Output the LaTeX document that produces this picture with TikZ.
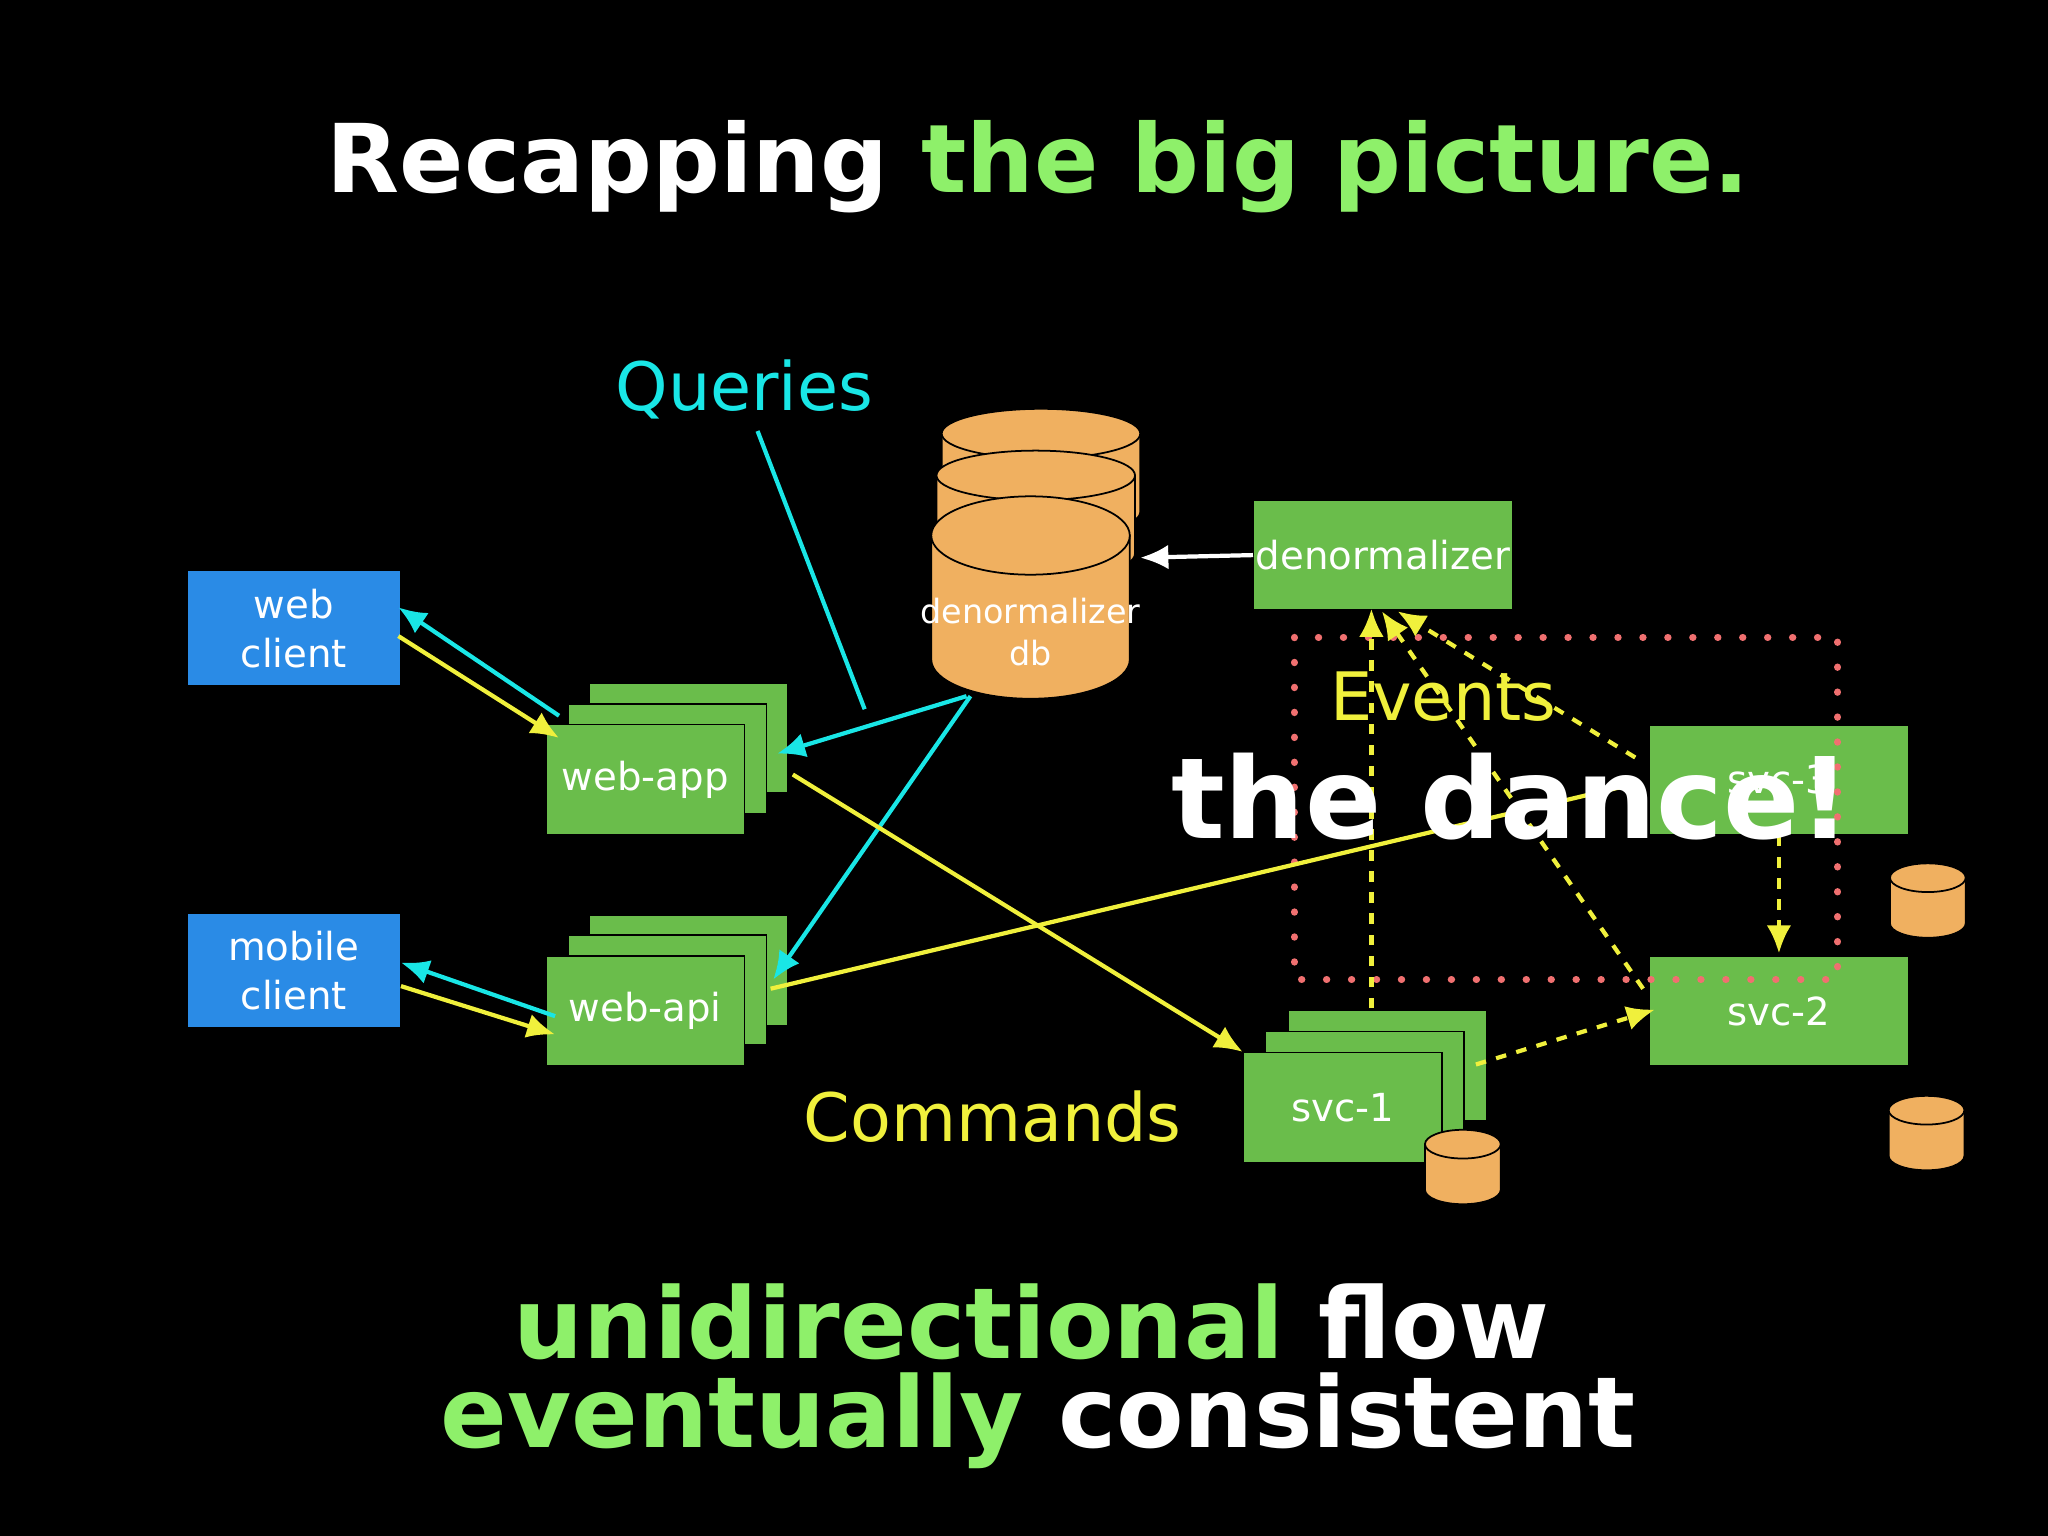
\documentclass[tikz,border=0pt]{standalone}
\usepackage{fontspec}
\setmainfont{DejaVu Sans}
\usetikzlibrary{arrows.meta}
\definecolor{gr}{HTML}{6ABD4B}
\definecolor{bl}{HTML}{2A8BE6}
\definecolor{lg}{HTML}{8EF06A}
\definecolor{cy}{HTML}{19E6E6}
\definecolor{ye}{HTML}{F0F03C}
\definecolor{og}{HTML}{F0B060}
\definecolor{rd}{HTML}{F07070}
\tikzset{
 box/.style={draw=black,line width=0.4pt,fill=#1,text=white,font=\fontsize{11}{14}\selectfont,align=center,inner sep=0pt,minimum width=1.985cm,minimum height=1.1cm},
 ca/.style={cy,line width=1.2pt,-{Latex[length=8pt,width=7pt]}},
 ya/.style={ye,line width=1.2pt,-{Latex[length=8pt,width=7pt]}},
 yd/.style={ye,line width=1.2pt,dash pattern=on 3pt off 3pt,-{Latex[length=8pt,width=7pt]}},
}
% cx, top y, rx, ry, height
\newcommand\mycyl[5]{%
 \fill[og,draw=black,line width=0.5pt] (#1-#3,#2) -- (#1-#3,#2+#5) arc[start angle=180,end angle=0,x radius=#3,y radius=#4] -- (#1+#3,#2) -- cycle;
 \fill[og,draw=black,line width=0.5pt] (#1,#2) ellipse[x radius=#3,y radius=#4];}
\begin{document}
\begin{tikzpicture}[x=0.01306cm,y=-0.01306cm]
\fill[black] (0,0) rectangle (1568,1176);
\useasboundingbox (0,0) rectangle (1568,1176);
\node[font=\fontsize{27}{30}\selectfont\bfseries,text=white] (title) at (795,128) {Recapping \textcolor{lg}{the big picture.}};
% clients
\node[box=bl,minimum width=2.14cm,minimum height=1.15cm] (wc) at (225,481) {web\\client};
\node[box=bl,minimum width=2.14cm,minimum height=1.15cm] (mc) at (225,743) {mobile\\client};
% web-app stack
\node[box=gr] (wa3) at (527,565) {};
\node[box=gr] (wa2) at (511,581) {};
\node[box=gr] (wa) at (494,597) {web-app};
\node[box=gr] (wp3) at (527,743) {};
\node[box=gr] (wp2) at (511,758) {};
\node[box=gr] (wp) at (494,774) {web-api};
% db stack
\mycyl{797}{332}{76}{19}{60}
\mycyl{793}{364}{76}{19}{60}
\mycyl{789}{410}{76}{30}{95}
\node[text=white,font=\fontsize{9.5}{12}\selectfont,align=center] (db) at (789,484) {denormalizer\\db};
\node[box=gr,minimum width=2.59cm,minimum height=1.09cm] (dn) at (1059,425) {denormalizer};
% svc
\node[box=gr] (s13) at (1062,816) {};
\node[box=gr] (s12) at (1045,832) {};
\node[box=gr] (s1) at (1028,848) {svc-1};
\mycyl{1120}{876}{29}{11}{35}
\node[box=gr,minimum width=2.59cm,minimum height=1.09cm] (s3) at (1362,597) {svc-3};
\node[box=gr,minimum width=2.59cm,minimum height=1.09cm] (s2) at (1362,774) {svc-2};
\mycyl{1476}{672}{29}{11}{35}
\mycyl{1475}{850}{29}{11}{35}
% red dotted
\draw[rd,line width=2pt,dash pattern=on 0.1pt off 7pt,line cap=round] (991,488) rectangle (1407,750);
% labels
\node[cy,font=\fontsize{19}{22}\selectfont] (q) at (570,298) {Queries};
\node[ye,font=\fontsize{19}{22}\selectfont] (ev) at (1105,533) {Events};
\node[ye,font=\fontsize{19}{22}\selectfont] (cm) at (760,855) {Commands};
\coordinate (q1) at (580,330); \coordinate (q2) at (662,543);
\draw[cy,line width=1.2pt] (q1) -- (q2);
\draw[ca] (428,548) -- (305,465);
\draw[ya] (305,487) -- (428,565);
\draw[ca] (425,778) -- (307,737);
\draw[ya] (307,755) -- (425,792);
\draw[ca] (740,533) -- (595,577);
\draw[ca] (743,533) -- (592,750);
\draw[white,line width=1.2pt,-{Latex[length=8pt,width=7pt]}] (dn.west) -- (873,427);
\draw[ya] (607,593) -- (s1.north west);
\draw[ye,line width=1.2pt] (590,757) -- (1252,600);
\draw[yd] (1050,772) -- (1050,466);
\draw[yd] (1130,815) -- (1267,773);
\draw[yd] (1252,580) -- (1070,468);
\draw[yd] (1258,757) -- (1058,468);
\draw[yd] (1362,640) -- (1362,730);
\node[white,font=\fontsize{32}{36}\selectfont\bfseries] (dance) at (1157,610) {the dance!};
\node[white,font=\fontsize{28}{32}\selectfont\bfseries] (b1) at (790,1012) {\textcolor{lg}{unidirectional} flow};
\node[white,font=\fontsize{28}{32}\selectfont\bfseries] (b2) at (795,1088) {\textcolor{lg}{eventually} consistent};
\end{tikzpicture}
\end{document}
